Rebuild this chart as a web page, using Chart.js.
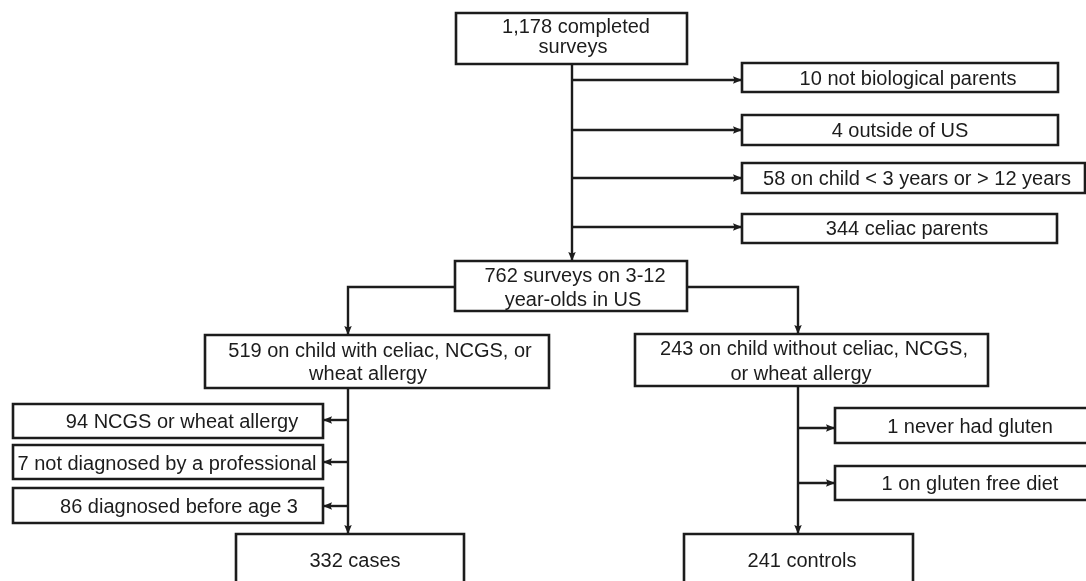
<!DOCTYPE html>
<html>
<head>
<meta charset="utf-8">
<script src="https://cdn.jsdelivr.net/npm/chart.js@4/dist/chart.umd.min.js"></script>
<style>
  html, body { margin: 0; padding: 0; background: #fff; }
  #wrap { width: 1086px; height: 581px; position: relative; }
</style>
</head>
<body>
<div id="wrap"><canvas id="flow"></canvas></div>
<script>
// steps of the survey flow, top to bottom
const stepLabels = [
    ['1,178 completed', 'surveys'],
    ['10 not biological parents'],
    ['4 outside of US'],
    ['58 on child < 3 years or > 12 years'],
    ['344 celiac parents'],
    ['762 surveys on 3-12', 'year-olds in US'],
    ['519 on child with celiac, NCGS, or', 'wheat allergy'],
    ['243 on child without celiac, NCGS,', 'or wheat allergy'],
    ['94 NCGS or wheat allergy'],
    ['7 not diagnosed by a professional'],
    ['86 diagnosed before age 3'],
    ['1 never had gluten'],
    ['1 on gluten free diet'],
    ['332 cases'],
    ['241 controls']
];

// box frames in diagram units [left, top, right, bottom]
const boxFrames = [
    [456, 13, 687, 64],
    [742, 63, 1058, 92],
    [742, 115, 1058, 145],
    [742, 163, 1085, 193],
    [742, 214, 1057, 243],
    [455, 261, 687, 311],
    [205, 335, 549, 388],
    [635, 334, 988, 386],
    [13, 404, 323, 438],
    [13, 445, 323, 479],
    [13, 488, 323, 523],
    [835, 408, 1095, 443],
    [835, 466, 1095, 500],
    [236, 534, 464, 600],
    [684, 534, 913, 600]
];

// text anchors, one [x, baseline] per line
const textAnchors = [
    [[576, 33], [573, 53]],
    [[908, 85]],
    [[900, 137]],
    [[917, 185]],
    [[907, 235]],
    [[575, 282], [573, 306]],
    [[380, 357], [368, 380]],
    [[814, 355], [801, 380]],
    [[182, 428]],
    [[167, 470]],
    [[179, 513]],
    [[970, 433]],
    [[970, 490]],
    [[355, 567]],
    [[802, 567]]
];

// connectors, arrow at the last point; dir = arrow rotation in degrees
const links = [
    {pts: [[572, 64], [572, 261]], dir: 90},
    {pts: [[572, 80], [742, 80]], dir: 0},
    {pts: [[572, 130], [742, 130]], dir: 0},
    {pts: [[572, 178], [742, 178]], dir: 0},
    {pts: [[572, 227], [742, 227]], dir: 0},
    {pts: [[455, 287], [348, 287], [348, 335]], dir: 90},
    {pts: [[687, 287], [798, 287], [798, 334]], dir: 90},
    {pts: [[348, 388], [348, 534]], dir: 90},
    {pts: [[348, 420], [323, 420]], dir: 180},
    {pts: [[348, 462], [323, 462]], dir: 180},
    {pts: [[348, 506], [323, 506]], dir: 180},
    {pts: [[798, 386], [798, 534]], dir: 90},
    {pts: [[798, 428], [835, 428]], dir: 0},
    {pts: [[798, 483], [835, 483]], dir: 0}
];

const ink = '#1c1c1c';

// arrowhead sprite, tip sits on the sprite centre
const head = document.createElement('canvas');
head.width = 24;
head.height = 12;
const hctx = head.getContext('2d');
hctx.fillStyle = ink;
hctx.beginPath();
hctx.moveTo(12, 6);
hctx.lineTo(3, 2.2);
hctx.lineTo(4.5, 6);
hctx.lineTo(3, 9.8);
hctx.closePath();
hctx.fill();

const datasets = [];
boxFrames.forEach(function (b) {
    datasets.push({
        data: [
            {x: b[0], y: b[1]}, {x: b[2], y: b[1]},
            {x: b[2], y: b[3]}, {x: b[0], y: b[3]},
            {x: b[0], y: b[1]}
        ],
        borderColor: ink,
        borderWidth: 2.6,
        borderJoinStyle: 'miter',
        borderCapStyle: 'square',
        pointRadius: 0,
        showLine: true,
        clip: false
    });
});
links.forEach(function (l) {
    const last = l.pts.length - 1;
    datasets.push({
        data: l.pts.map(function (p) { return {x: p[0], y: p[1]}; }),
        borderColor: ink,
        borderWidth: 2.4,
        borderJoinStyle: 'miter',
        pointStyle: head,
        pointRotation: l.dir,
        pointRadius: function (c) { return c.dataIndex === last ? 5 : 0; },
        showLine: true,
        clip: false
    });
});

const boxText = {
    id: 'boxText',
    afterDatasetsDraw: function (chart) {
        const ctx = chart.ctx;
        const xs = chart.scales.x;
        const ys = chart.scales.y;
        ctx.save();
        ctx.fillStyle = ink;
        ctx.font = '20px "Liberation Sans", Arial, sans-serif';
        ctx.textAlign = 'center';
        ctx.textBaseline = 'alphabetic';
        stepLabels.forEach(function (lines, i) {
            lines.forEach(function (t, j) {
                const a = textAnchors[i][j];
                ctx.fillText(t, xs.getPixelForValue(a[0]), ys.getPixelForValue(a[1]));
            });
        });
        ctx.restore();
    }
};

new Chart(document.getElementById('flow'), {
    type: 'scatter',
    data: {datasets: datasets},
    options: {
        responsive: true,
        maintainAspectRatio: false,
        animation: false,
        layout: {padding: 0, autoPadding: false},
        plugins: {legend: {display: false}, tooltip: {enabled: false}},
        scales: {
            x: {type: 'linear', min: 0, max: 1086, display: false},
            y: {type: 'linear', min: 0, max: 581, reverse: true, display: false}
        }
    },
    plugins: [boxText]
});
</script>
</body>
</html>
